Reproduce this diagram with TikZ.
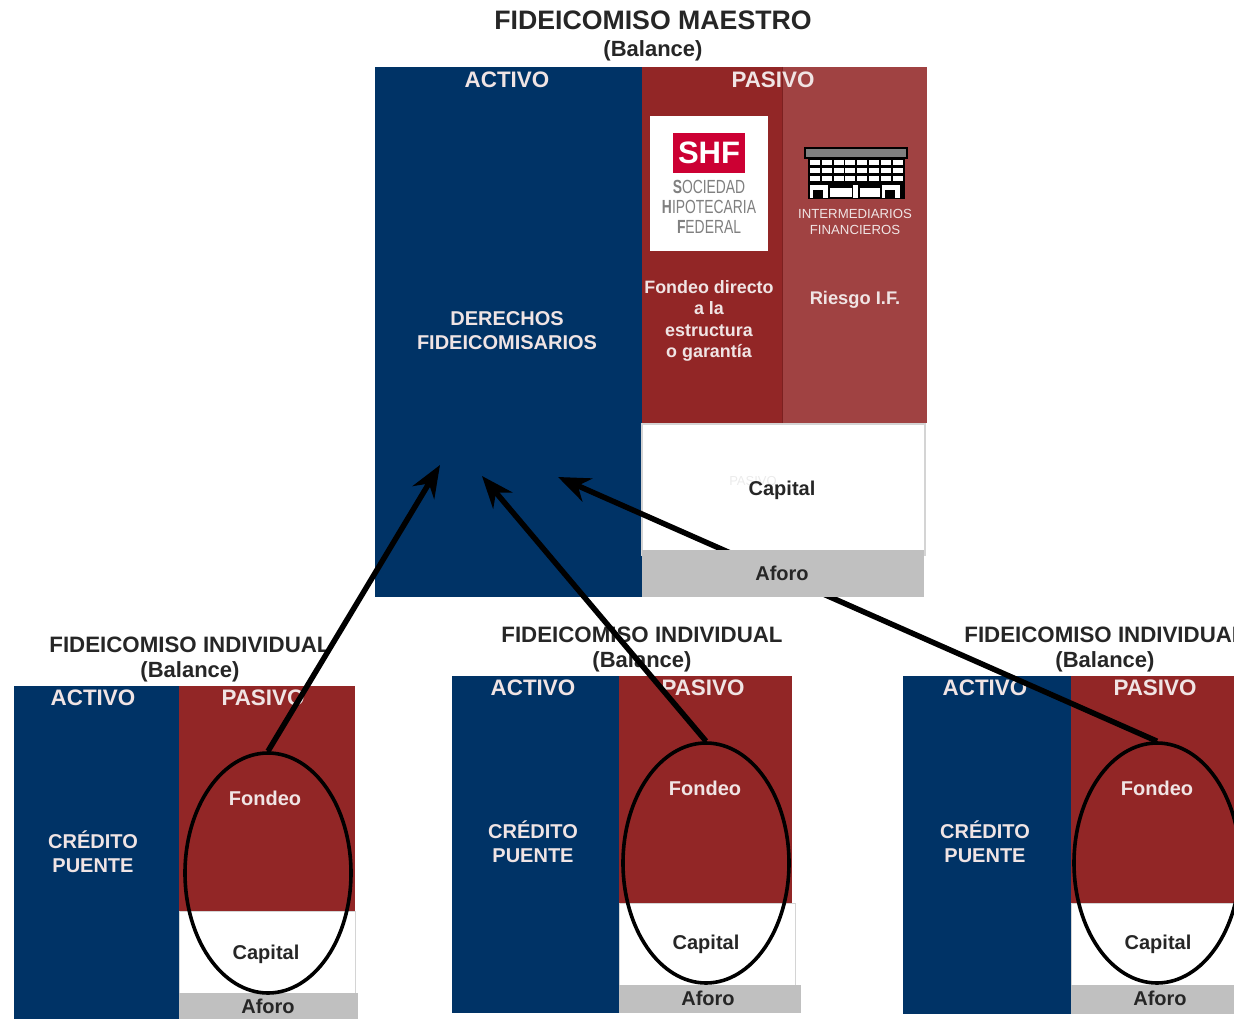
\documentclass[tikz,border=0pt]{standalone}
\usepackage{fontspec}
\setmainfont{Liberation Sans}
\usetikzlibrary{arrows.meta,shapes.geometric}
\definecolor{azul}{HTML}{003366}
\definecolor{rojo}{HTML}{922626}
\definecolor{rojoclaro}{HTML}{A04242}
\definecolor{gris}{HTML}{C0C0C0}
\definecolor{marco}{HTML}{D4D4D4}
\definecolor{letra}{HTML}{F0E4E4}
\definecolor{oscuro}{HTML}{262626}
\definecolor{sello}{HTML}{CC0033}
\tikzset{
	titulo/.style={font=\bfseries\fontsize{22.3}{24}\selectfont,text=oscuro,inner sep=0pt},
	sub/.style={font=\bfseries\fontsize{22}{24}\selectfont,text=oscuro,inner sep=0pt},
	claro/.style={font=\bfseries\fontsize{20}{24}\selectfont,text=letra,inner sep=0pt,align=center},
	encabezado/.style={font=\bfseries\fontsize{22.4}{24}\selectfont,text=letra,inner sep=0pt},
	negro/.style={font=\bfseries\fontsize{20}{22}\selectfont,text=oscuro,inner sep=0pt},
	logo/.style={font=\fontsize{19}{20}\selectfont,text=gray,inner sep=0pt,xscale=.73},
	flecha/.style={line width=5.5pt,-{Stealth[length=32pt,width=25pt]}},
	ovalo/.style={draw,ellipse,line width=3.6pt,inner sep=0pt,minimum width=166pt,minimum height=240pt}
}
\begin{document}
\begin{tikzpicture}[x=1pt,y=-1pt]
	\useasboundingbox (0,0) rectangle (1234,1019);
	\clip (0,0) rectangle (1234,1019);

	% balance maestro
	\fill[azul] (375,67) rectangle (642,597);
	\fill[rojo] (642,67) rectangle (782,423);
	\fill[rojoclaro] (782,67) rectangle (927,423);
	\draw[rojo!85!black,line width=1pt] (782,67) -- (782,423);
	\draw[marco,line width=1.2pt] (642,424) rectangle (925,555);

	\node[titulo,font=\bfseries\fontsize{26.7}{28}\selectfont] (maestro) at (653,20) {FIDEICOMISO MAESTRO};
	\node[sub] (balance) at (653,51) {(Balance)};
	\node[encabezado] (activo) at (507,80) {ACTIVO};
	\node[encabezado] (pasivo) at (773,80) {PASIVO};
	\node[claro] (derechos) at (507,331) {DERECHOS\\FIDEICOMISARIOS};
	\node[claro,font=\bfseries\fontsize{17.9}{21.5}\selectfont] (directo) at (709,321) {Fondeo directo\\a la\\estructura\\o garantía};
	\node[claro,font=\bfseries\fontsize{18.3}{22}\selectfont] (riesgo) at (855,300) {Riesgo I.F.};
	\node[font=\fontsize{13}{16}\selectfont,text=black!8,inner sep=0pt] (fondo) at (753,481) {PASIVO};
	\node[negro] (capital) at (782,490) {Capital};

	% logotipo
	\fill[white] (650,116) rectangle (768,251);
	\fill[sello] (673,133) rectangle (745,173);
	\node[font=\bfseries\fontsize{31}{32}\selectfont,text=white,inner sep=0pt] (shf) at (709,153) {SHF};
	\node[logo] (sociedad) at (709,187) {\textbf{S}OCIEDAD};
	\node[logo] (hipotecaria) at (709,207) {\textbf{H}IPOTECARIA};
	\node[logo] (federal) at (709,227) {\textbf{F}EDERAL};

	% edificio
	\fill[black] (808,158) rectangle (905,199);
	\draw[black,fill=gray,line width=1.2pt] (805,148) rectangle (907,158);
	\foreach \j in {160,168,176} {
			\foreach \i in {0,...,7} {
					\fill[white] ({810+11.8*\i},\j) rectangle ++(10,5);
				}
		}
	\foreach \i in {810,882} {
			\fill[white] (\i,185) rectangle ++(18,13);
			\fill[black] ({\i+3},190) rectangle ++(10,8);
		}
	\fill[white] (830,188) rectangle (852,197);
	\fill[white] (853,185) rectangle (858,198);
	\fill[white] (860,188) rectangle (880,197);
	\node[font=\fontsize{13.2}{16}\selectfont,text=letra,inner sep=0pt,align=center] (intermediarios) at (855,222) {INTERMEDIARIOS\\FINANCIEROS};

	% balances individuales
	\foreach \n/\xa/\xb/\xr/\xc/\xd/\xo/\xt/\ya/\yb/\yc/\yd/\ye in {
			A/14/179/355/355/358/268/190/686/911/993/1019/1019,
			B/452/619/792/795/801/706/642/676/903/985/1013/1013,
			C/903/1071/1240/1240/1240/1157/1105/676/903/985/1014/1014} {
			\fill[azul] (\xa,\ya) rectangle (\xb,\ye);
			\fill[rojo] (\xb,\ya) rectangle (\xr,\yb);
			\draw[marco,line width=1pt] (\xb,\yb) rectangle (\xc,\yc);
			\fill[gris] (\xb,\yc) rectangle (\xd,\yd);
			\node[titulo] (ind\n) at (\xt,{\ya-41}) {FIDEICOMISO INDIVIDUAL};
			\node[sub] (bal\n) at (\xt,{\ya-14}) {(Balance)};
			\node[encabezado] (act\n) at ({\xb-86},{\ya+12}) {ACTIVO};
			\node[encabezado] (pas\n) at ({\xb+84},{\ya+12}) {PASIVO};
			\node[claro] (puente\n) at ({\xb-86},{\ya+166}) {CRÉDITO\\PUENTE};
			\node[claro] (fon\n) at ({\xb+86},{\ya+112}) {Fondeo};
			\node[negro] (cap\n) at ({\xb+87},{\ya+268}) {Capital};
			\node[negro] (afo\n) at ({\xb+89},{\yc+13}) {Aforo};
			\node[ovalo] (ovalo\n) at (\xo,{\ya+187}) {};
		}

	% flechas hacia el maestro
	\coordinate (puntaA) at (440,465);
	\coordinate (puntaB) at (482,476);
	\coordinate (puntaC) at (558,477);
	\draw[flecha] (ovaloA.north) -- (puntaA);
	\draw[flecha] (ovaloB.north) -- (puntaB);
	\draw[flecha] (ovaloC.north) -- (puntaC);

	% aforo maestro tapa la flecha
	\fill[gris] (642,550) rectangle (924,597);
	\node[negro] (aforo) at (782,573) {Aforo};
\end{tikzpicture}
\end{document}
